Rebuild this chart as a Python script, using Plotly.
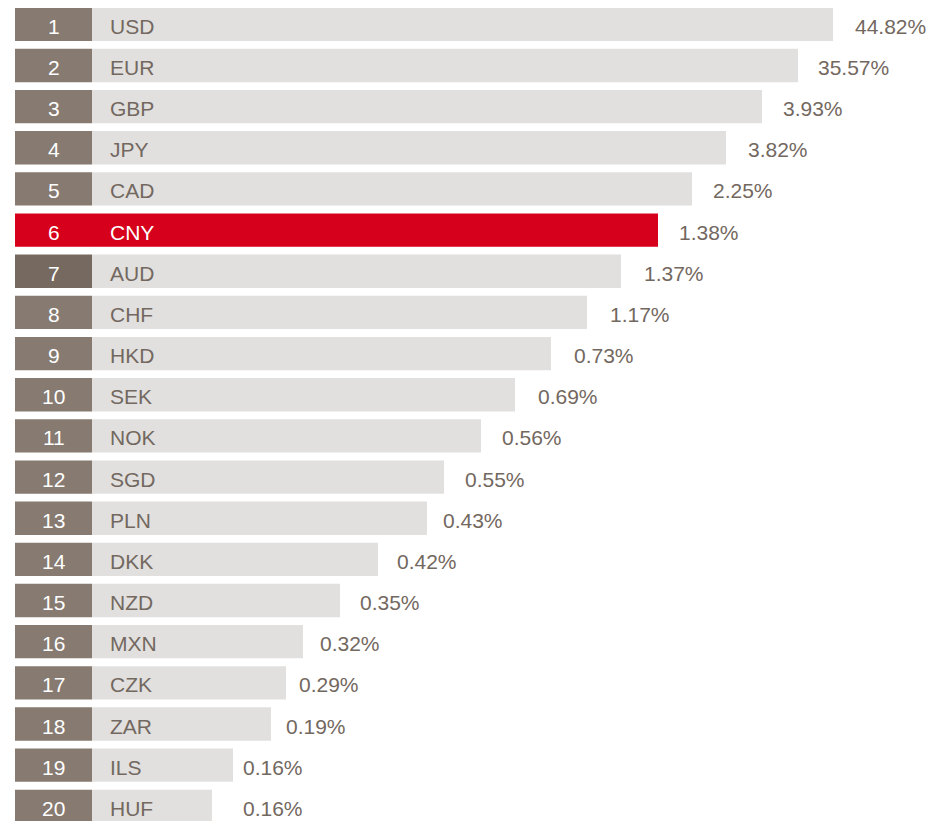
import plotly.graph_objects as go

# ---- data ----
ranks = list(range(1, 21))
currencies = ["USD", "EUR", "GBP", "JPY", "CAD", "CNY", "AUD", "CHF", "HKD", "SEK",
              "NOK", "SGD", "PLN", "DKK", "NZD", "MXN", "CZK", "ZAR", "ILS", "HUF"]
shares = [44.82, 35.57, 3.93, 3.82, 2.25, 1.38, 1.37, 1.17, 0.73, 0.69,
          0.56, 0.55, 0.43, 0.42, 0.35, 0.32, 0.29, 0.19, 0.16, 0.16]
# displayed bar length (decorative scale)
bar_display = [741, 706, 670, 634, 600, 566, 529, 495, 459, 423,
               389, 352, 335, 286, 248, 211, 194, 179, 141, 120]
highlight = "CNY"

# ---- style ----
PAGE_OFF = 8            # default body margin of the html page
W, H = 948 - PAGE_OFF, 821 - PAGE_OFF
BOX_START, BOX_W = 15, 77
BAR_START = BOX_START + BOX_W
BOX_COL = "#867a71"
BOX_COL_DARK = "#766a60"
BAR_COL = "#e1e0de"
RED = "#d6001c"
TXT = "#736860"
FONT = "Liberation Sans, Arial, sans-serif"
FS = 21
TEXT_DY = -2
label_gap = [22, 20, 21, 22, 21, 21, 23, 23, 23, 23,
             21, 21, 16, 19, 20, 17, 13, 15, 10, 31]

ROW_PITCH = 41.16
ROW1_CENTER = 24.3
y_top = 1 - (ROW1_CENTER - PAGE_OFF) / ROW_PITCH
y_bot = y_top + H / ROW_PITCH

box_colors = []
bar_colors = []
for c, r in zip(currencies, ranks):
    if c == highlight:
        box_colors.append(RED)
        bar_colors.append(RED)
    else:
        box_colors.append(BOX_COL_DARK if r == 7 else BOX_COL)
        bar_colors.append(BAR_COL)

fig = go.Figure()
fig.add_trace(go.Bar(
    y=ranks, x=bar_display, base=BAR_START, orientation="h",
    marker=dict(color=bar_colors, line=dict(width=0)), width=0.81,
    hoverinfo="skip", showlegend=False))
fig.add_trace(go.Bar(
    y=ranks, x=[BOX_W] * len(ranks), base=BOX_START, orientation="h",
    marker=dict(color=box_colors, line=dict(width=0)), width=0.81,
    hoverinfo="skip", showlegend=False))

annotations = []
for i, (r, c, s, L) in enumerate(zip(ranks, currencies, shares, bar_display)):
    hl = c == highlight
    annotations.append(dict(x=BOX_START + BOX_W / 2, y=r, text=str(r), showarrow=False,
                            xanchor="center", yanchor="middle", yshift=TEXT_DY,
                            font=dict(family=FONT, size=FS, color="white")))
    annotations.append(dict(x=BAR_START, y=r, text=c, showarrow=False,
                            xanchor="left", yanchor="middle", xshift=16, yshift=TEXT_DY,
                            font=dict(family=FONT, size=FS, color="white" if hl else TXT)))
    annotations.append(dict(x=BAR_START + L, y=r, text=f"{s:.2f}%", showarrow=False,
                            xanchor="left", yanchor="middle", xshift=label_gap[i] - 2,
                            yshift=TEXT_DY,
                            font=dict(family=FONT, size=FS, color=TXT)))

fig.update_layout(
    width=W, height=H,
    margin=dict(l=0, r=0, t=0, b=0),
    paper_bgcolor="white", plot_bgcolor="white",
    barmode="overlay",
    xaxis=dict(range=[PAGE_OFF, 948], visible=False, fixedrange=True),
    yaxis=dict(range=[y_bot, y_top], visible=False, fixedrange=True),
    annotations=annotations,
)

fig.write_html("out.html")
